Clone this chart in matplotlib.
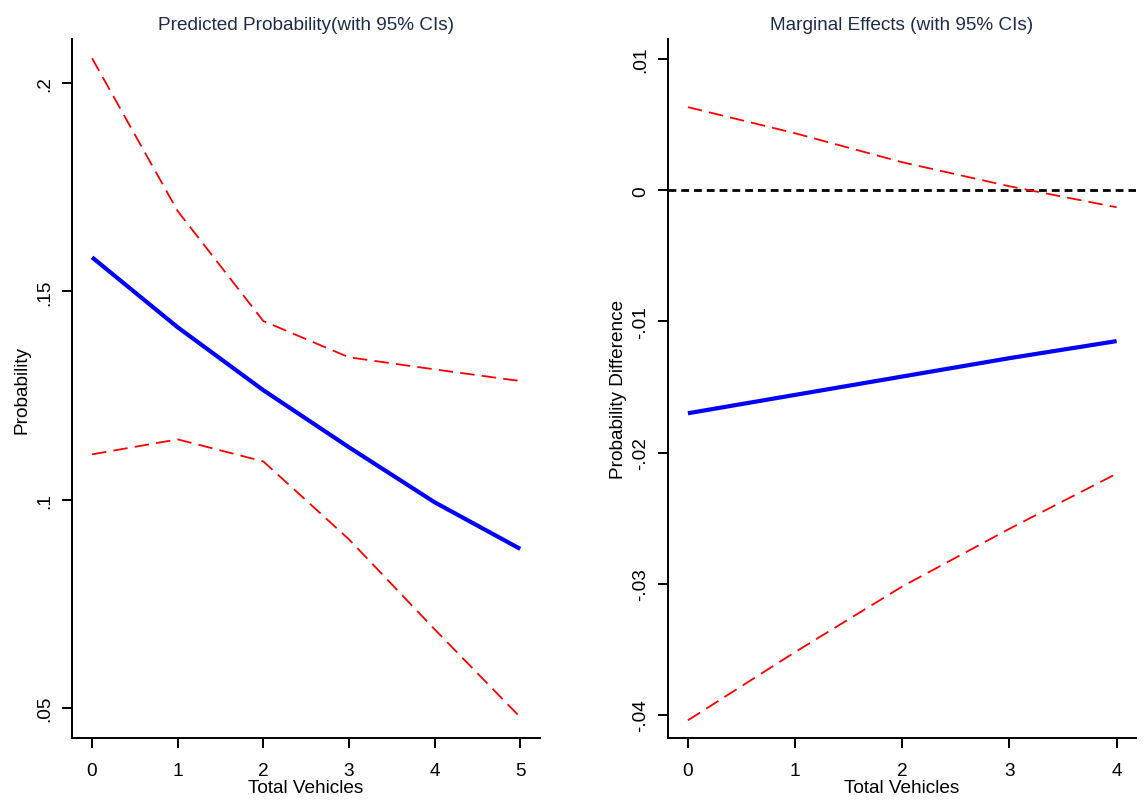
import matplotlib
matplotlib.use("Agg")
import matplotlib.pyplot as plt

plt.rcParams['font.family'] = ['Liberation Sans', 'DejaVu Sans']

# datos
vehicles_pp = [0, 1, 2, 3, 4, 5]
prob = [0.1582, 0.1414, 0.1263, 0.1126, 0.0994, 0.0882]
prob_hi = [0.2060, 0.1693, 0.1429, 0.1342, 0.1313, 0.1285]
prob_lo = [0.1109, 0.1145, 0.1092, 0.0905, 0.0689, 0.0478]
pp_yticks = [0.05, 0.10, 0.15, 0.20]
pp_ylabels = ['.05', '.1', '.15', '.2']

vehicles_me = [0, 1, 2, 3, 4]
me = [-0.0170, -0.0156, -0.0142, -0.0128, -0.0115]
me_hi = [0.00633, 0.00434, 0.00213, 0.0003, -0.0013]
me_lo = [-0.0404, -0.0352, -0.0302, -0.0258, -0.0216]
me_yticks = [-0.04, -0.03, -0.02, -0.01, 0.0, 0.01]
me_ylabels = ['-.04', '-.03', '-.02', '-.01', '0', '.01']

title_color = '#1e2b4b'
fs = 13.7

fig = plt.figure(figsize=(11.43, 8.04), dpi=100)
fig.patch.set_facecolor('white')

ax1 = fig.add_axes([0.063, 0.0808, 0.4094, 0.8694])
ax2 = fig.add_axes([0.5844, 0.0808, 0.4094, 0.8694])


def estilo(ax, xt, yt, ylab, ttl, ylabel):
    for s in ['top', 'right']:
        ax.spines[s].set_visible(False)
    for s in ['left', 'bottom']:
        ax.spines[s].set_linewidth(1.4)
    ax.set_xticks(xt)
    ax.set_xticklabels([str(v) for v in xt], fontsize=fs)
    ax.set_yticks(yt)
    ax.set_yticklabels(ylab, fontsize=fs, rotation=90, va='center')
    ax.tick_params(direction='out', length=7, width=1.4)
    ax.tick_params(axis='x', pad=10)
    ax.tick_params(axis='y', pad=6.5)
    ax.set_xlabel('Total Vehicles', fontsize=fs, labelpad=0.5)
    ax.set_ylabel(ylabel, fontsize=fs, labelpad=4)
    ax.set_title(ttl, fontsize=fs, color=title_color, pad=7)


ax1.plot(vehicles_pp, prob, color='#0000ff', lw=3, solid_capstyle='butt')
ax1.plot(vehicles_pp, prob_hi, color='#ff0000', lw=1.3, dashes=(8, 4))
ax1.plot(vehicles_pp, prob_lo, color='#ff0000', lw=1.3, dashes=(8, 4))
ax1.set_xlim(-0.234, 5.23)
ax1.set_ylim(0.0428, 0.2106)
estilo(ax1, vehicles_pp, pp_yticks, pp_ylabels,
       'Predicted Probability(with 95% CIs)', 'Probability')

ax2.axhline(0, color='black', lw=2, dashes=(2.8, 1.8))
ax2.plot(vehicles_me, me, color='#0000ff', lw=3, solid_capstyle='butt')
ax2.plot(vehicles_me, me_hi, color='#ff0000', lw=1.3, dashes=(8, 4))
ax2.plot(vehicles_me, me_lo, color='#ff0000', lw=1.3, dashes=(8, 4))
ax2.set_xlim(-0.186, 4.18)
ax2.set_ylim(-0.04175, 0.01152)
estilo(ax2, vehicles_me, me_yticks, me_ylabels,
       'Marginal Effects (with 95% CIs)', 'Probability Difference')

fig.savefig('out.png', dpi=100, facecolor='white')
